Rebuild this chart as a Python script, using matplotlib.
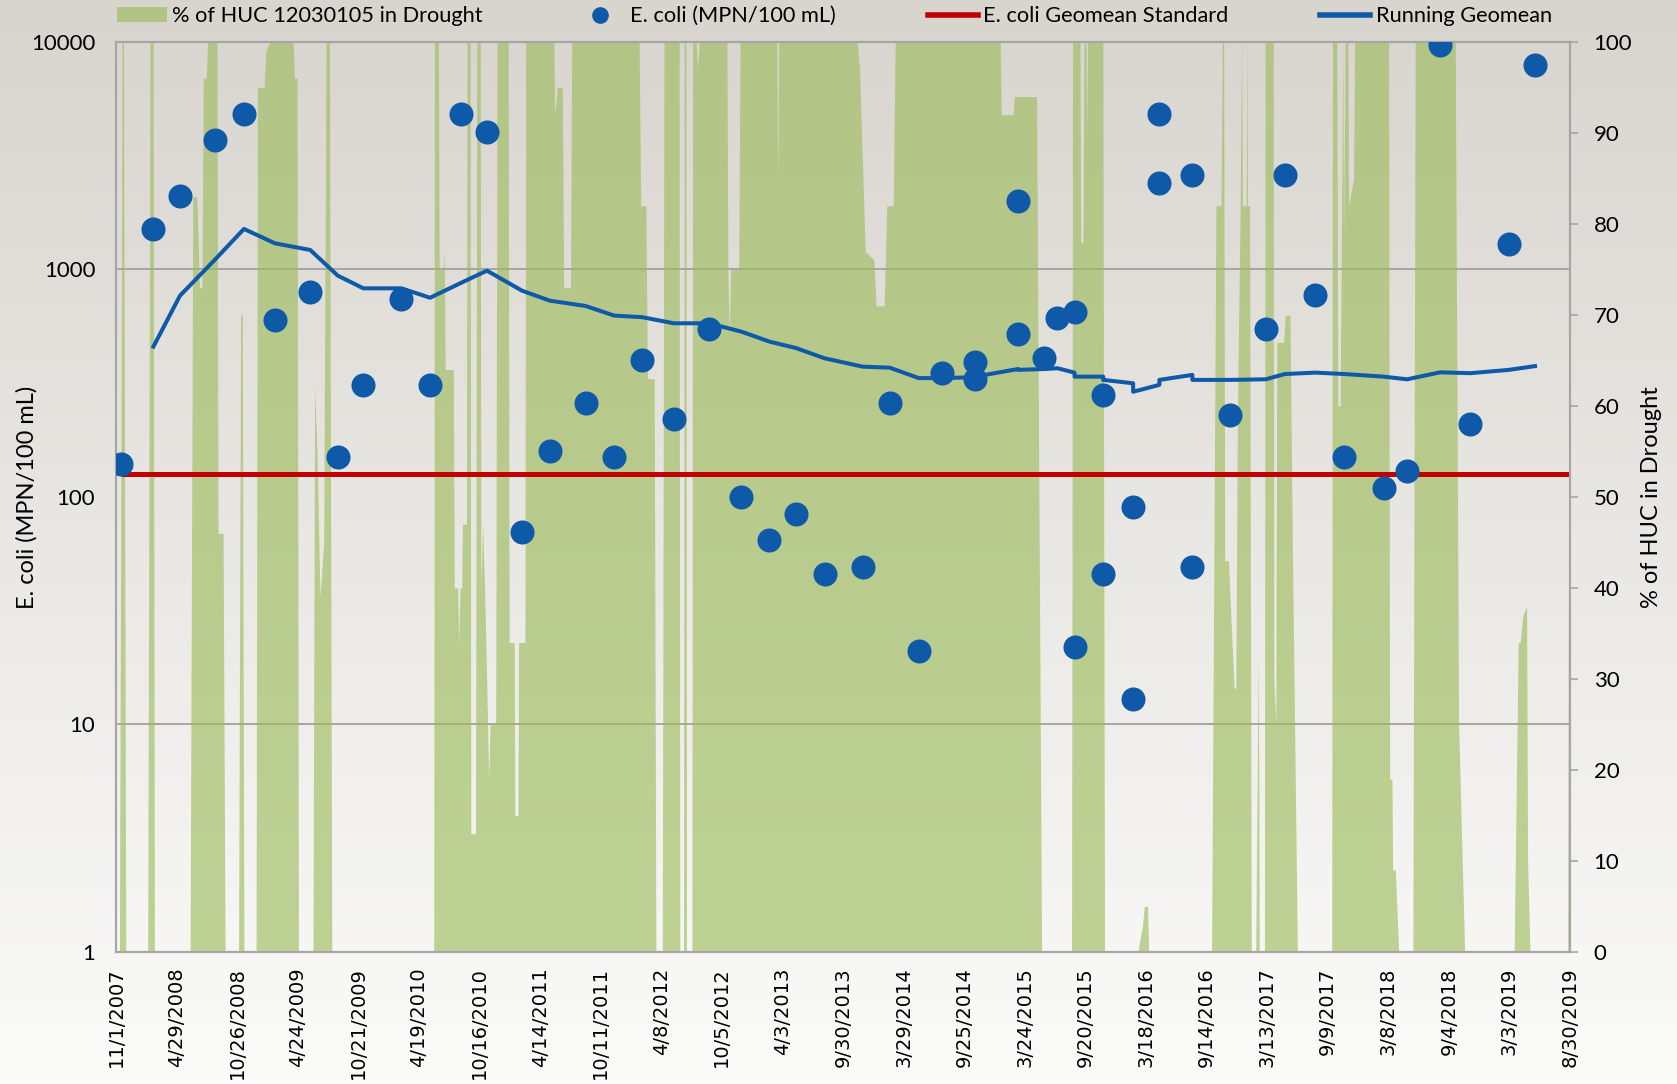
import numpy as np
import matplotlib.pyplot as plt
from matplotlib.lines import Line2D
from matplotlib.patches import Patch
from matplotlib.ticker import MultipleLocator, FixedLocator, FixedFormatter

# Period covered
start = np.datetime64('2007-11-01')
end = np.datetime64('2019-08-30')

# E. coli samples (days after 11/1/2007, MPN/100 mL)
sample_day = [14, 111, 190, 295, 380, 472, 577, 659, 735, 848, 933, 1025, 1102,
              1206, 1289, 1395, 1480, 1563, 1657, 1761, 1858, 1941, 2021, 2105,
              2218, 2299, 2385, 2454, 2553, 2553, 2680, 2680, 2758, 2797, 2848,
              2848, 2933, 2933, 3022, 3022, 3100, 3100, 3198, 3198, 3311, 3416,
              3473, 3563, 3649, 3766, 3836, 3934, 4024, 4139, 4216]
ecoli = [140, 1500, 2100, 3700, 4800, 600, 800, 150, 310, 740, 310, 4800, 4000,
         70, 160, 260, 150, 400, 220, 550, 100, 65, 84, 46,
         49, 260, 21, 350, 390, 330, 2000, 520, 410, 610, 650,
         22, 280, 46, 90, 13, 2400, 4800, 2600, 49, 230, 550,
         2600, 770, 150, 110, 130, 9700, 210, 1300, 7900]

# Running geomean (from the second sample on)
geomean = [458, 767, 1109, 1507, 1303, 1218, 939, 826, 826, 751, 873, 988,
           807, 729, 691, 627, 617, 580, 580, 533, 482, 451, 407,
           374, 370, 333, 333, 336, 338, 365, 362, 365, 368, 352,
           338, 338, 327, 316, 290, 311, 327, 344, 327, 327, 329,
           347, 352, 347, 338, 329, 353, 350, 362, 376]

standard = 126

# Drought coverage (days after 11/1/2007, % of HUC)
drought_day = [0, 10, 18, 22, 29, 94, 101, 110, 114,
               220, 228, 240, 248, 255, 259, 268, 272, 300, 303, 318, 324,
               364, 370, 375, 380,
               416, 420, 440, 445, 457, 526, 530, 538, 542,
               585, 590, 597, 606, 617, 624, 634, 641,
               944, 946, 958, 960, 972, 975, 978, 1002, 1005, 1015, 1018, 1022,
               1027, 1029, 1041, 1043, 1052, 1054, 1068, 1072, 1082, 1084, 1089,
               1095, 1104, 1107, 1111, 1128, 1132, 1165, 1168, 1183, 1185, 1194,
               1196, 1215, 1217, 1301, 1303, 1311, 1326, 1330, 1350, 1354,
               1554, 1559, 1574, 1579, 1599, 1604, 1623, 1628, 1673, 1675, 1686,
               1688, 1693, 1695, 1711, 1713, 1723, 1728, 1733, 1815, 1818, 1822,
               1826, 1850, 1854, 1963, 1966, 1969, 2202, 2209, 2226, 2252, 2258,
               2282, 2290, 2309, 2315, 2627, 2630, 2665, 2669, 2735, 2750,
               2839, 2842, 2864, 2866, 2873, 2876, 2882, 2884, 2887, 2932, 2937,
               3036, 3050, 3055, 3065, 3068,
               3255, 3268, 3283, 3287, 3291, 3294, 3305, 3322, 3327, 3332, 3340,
               3344, 3347, 3358, 3360, 3362, 3368, 3373,
               3386, 3394, 3397, 3412, 3414, 3438, 3440, 3446, 3449, 3459, 3469,
               3474, 3488, 3495, 3510,
               3612, 3614, 3627, 3630, 3637, 3645, 3647, 3652, 3660, 3662, 3677,
               3680, 3781, 3784, 3791, 3793, 3801, 3811,
               3853, 3860, 3979, 3989, 4007,
               4154, 4166, 4172, 4180, 4191, 4194, 4201,
               4313, 4318, 4320]
drought_pct = [0, 0, 100, 100, 0, 0, 100, 100, 0,
               0, 83, 83, 73, 73, 96, 96, 100, 100, 46, 46, 0,
               0, 70, 70, 0,
               0, 95, 95, 99, 100, 100, 96, 96, 0,
               0, 62, 55, 39, 45, 100, 100, 0,
               0, 100, 100, 75, 75, 77, 64, 64, 40, 40, 34, 40,
               40, 47, 47, 100, 100, 13, 13, 100, 100, 40, 47,
               40, 25, 19, 25, 25, 100, 100, 34, 34, 15, 15,
               34, 34, 100, 100, 92, 95, 95, 73, 73, 100,
               100, 82, 82, 63, 63, 0, 0, 100, 100, 0, 0,
               100, 100, 0, 0, 100, 100, 97, 100, 100, 75, 68,
               75, 75, 100, 100, 85, 100, 100, 97, 77, 76, 71,
               71, 82, 82, 100, 100, 92, 92, 94, 94, 0,
               0, 100, 100, 78, 78, 100, 100, 90, 100, 100, 0,
               0, 3, 5, 5, 0,
               0, 82, 82, 100, 100, 43, 43, 29, 29, 60, 82,
               100, 82, 82, 100, 82, 82, 0,
               0, 33, 0, 0, 100, 100, 30, 25, 67, 67, 67,
               70, 70, 45, 0,
               0, 100, 100, 60, 60, 100, 78, 100, 100, 82, 85,
               100, 100, 19, 19, 9, 9, 0,
               0, 100, 100, 25, 0,
               0, 34, 34, 37, 38, 10, 0,
               0, 90, 100]

tick_days = list(range(0, 4321, 180))


def to_dates(days):
    return start + np.array(days).astype('timedelta64[D]')


blue = '#0f5aa8'
red = '#c00000'
green = '#9bbb59'
grid_c = '#a6a6a6'
font = 'Lato'

fig = plt.figure(figsize=(16.77, 10.84), dpi=100)

# soft vertical gradient behind everything
bg = fig.add_axes([0, 0, 1, 1], zorder=-10)
t = np.linspace(0, 1, 256)[:, None, None]
top_c = np.array([216, 212, 206]) / 255
bot_c = np.array([251, 251, 250]) / 255
bg.imshow(top_c + (bot_c - top_c) * t, aspect='auto', extent=[0, 1, 0, 1])
bg.axis('off')

ax = fig.add_axes([0.0692, 0.1218, 0.867, 0.8395])
ax2 = ax.twinx()
ax.set_zorder(ax2.get_zorder() + 1)
ax.patch.set_visible(False)
ax2.patch.set_visible(False)

# drought area and grid on the lower axis
ax2.fill_between(to_dates(drought_day), 0, drought_pct, color=green,
                 alpha=0.62, lw=0, zorder=2)
ax2.set_ylim(0, 100)
ax2.yaxis.set_major_locator(MultipleLocator(10))
ax2.yaxis.set_minor_locator(MultipleLocator(25))
ax2.set_axisbelow(True)
ax2.grid(which='minor', axis='y', color=grid_c, lw=1.4)
ax2.grid(which='major', axis='x', color=grid_c, lw=1.4)
ax2.tick_params(which='minor', length=0)
ax2.tick_params(axis='y', which='major', length=6, width=1.2, color=grid_c,
                labelsize=16, pad=11)
for lab in ax2.get_yticklabels():
    lab.set_family(font)

# E. coli data on the upper axis
ax.set_yscale('log')
ax.set_ylim(1, 10000)
ax.set_xlim(start, end)
ax.plot(to_dates([sample_day[0], 4320]), [standard, standard], color=red,
        lw=3.6, zorder=2, solid_capstyle='butt')
ax.plot(to_dates(sample_day[1:]), geomean, color=blue, lw=2.9, zorder=3)
ax.scatter(to_dates(sample_day), ecoli, s=300, color=blue, zorder=4,
           linewidths=0)

ax.yaxis.set_major_locator(FixedLocator([1, 10, 100, 1000, 10000]))
ax.yaxis.set_major_formatter(FixedFormatter(['1', '10', '100', '1000', '10000']))
ax.yaxis.set_minor_locator(FixedLocator([]))
ax.tick_params(axis='y', length=0, labelsize=16, pad=15)
for lab in ax.get_yticklabels():
    lab.set_family(font)

tick_dates = to_dates(tick_days)
ax.set_xticks(tick_dates)
ax.set_xticklabels([f'{d.month}/{d.day}/{d.year}' for d in tick_dates.astype(object)],
                   rotation=90, family='DejaVu Sans', fontsize=14)
ax.tick_params(axis='x', length=0, pad=11)

for a in (ax, ax2):
    for s in a.spines.values():
        s.set_color(grid_c)
        s.set_linewidth(1.5)

ax.set_ylabel('E. coli (MPN/100 mL)', family=font, fontsize=17)
ax.yaxis.set_label_coords(-0.054, 0.5)
ax2.set_ylabel('% of HUC in Drought', family=font, fontsize=17)
ax2.yaxis.set_label_coords(1.049, 0.5)

handles = [Patch(facecolor=green, alpha=0.62, lw=0),
           Line2D([], [], marker='o', ls='none', color=blue, markersize=11),
           Line2D([], [], color=red, lw=4),
           Line2D([], [], color=blue, lw=4)]
labels = ['% of HUC 12030105 in Drought', 'E. coli (MPN/100 mL)',
          'E. coli Geomean Standard', 'Running Geomean']
fig.legend(handles, labels, ncol=4, frameon=False, loc='center',
           bbox_to_anchor=(0.4975, 0.985), handlelength=2.3, handletextpad=0.25,
           columnspacing=4.2, prop={'family': font, 'size': 15.7})

fig.savefig('out.png', dpi=100)
